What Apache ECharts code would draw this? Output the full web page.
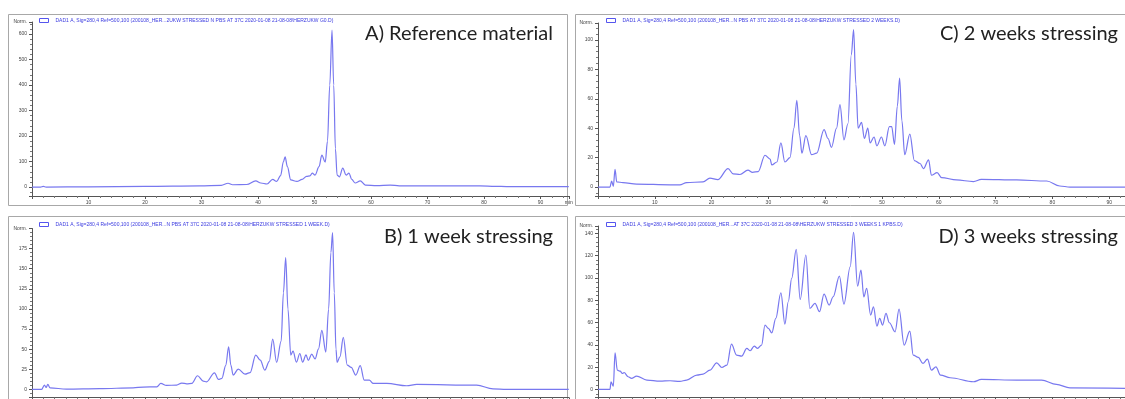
<!DOCTYPE html>
<html>
<head>
<meta charset="utf-8">
<title>Chromatograms</title>
<script src="https://cdn.jsdelivr.net/npm/echarts@6/dist/echarts.min.js"></script>
<style>
  html, body { margin: 0; padding: 0; background: #fff; }
  #chart { width: 1125px; height: 399px; }
</style>
</head>
<body>
<div id="chart"></div>
<script>
// retention time (min) and signal (Norm.)
const timeA = [0, 1.5, 2.0, 2.5, 10, 20, 29.7, 33.5, 34.7, 35.5, 38, 39.6, 40.5, 41.6, 42.6, 43.3, 44.0, 44.5, 44.8, 45.2,
  45.8, 46.9, 47.8, 48.6, 49.2, 49.6, 50.1, 50.8, 51.3, 51.9, 52.3, 52.7, 53.1, 53.4, 53.7, 54.0, 54.4, 55.0, 55.6, 56.1,
  56.6, 57.2, 58.1, 59.0, 61, 63.4, 65, 79.3, 82, 84, 95];
const valA = [0, 0, 3, 0, 1, 3, 5, 7, 15, 9, 10, 24, 16, 12, 30, 22, 45, 100, 118, 80,
  28, 22, 30, 42, 44, 55, 47, 80, 125, 98, 180, 400, 615, 400, 150, 47, 40, 74, 47, 55,
  30, 16, 24, 8, 6, 8, 5, 5, 3, 2, 2];

const timeB = [0, 1.7, 2.2, 2.5, 2.8, 3.2, 6.1, 12, 17.9, 19.7, 22.1, 22.8, 23.8, 25.6, 26.5, 27.4, 28.3, 29.3, 30.3, 30.9,
  32.3, 33.0, 33.6, 34.3, 34.8, 35.2, 35.6, 36.5, 37.7, 38.6, 39.6, 40.4, 41.2, 42.0, 42.6, 43.3, 44.1, 44.5, 44.9, 45.3,
  45.8, 46.2, 46.8, 47.4, 47.9, 48.5, 48.9, 49.5, 50.1, 50.7, 51.3, 52.0, 52.5, 52.9, 53.2, 53.5, 53.8, 54.0, 54.5, 55.1,
  55.8, 56.5, 57.3, 58.1, 58.8, 59.7, 60.4, 62.8, 66.3, 68.1, 78.7, 81.6, 84, 95];
const valB = [0, 0, 5.4, 2.5, 6.2, 2, 0.4, 1, 2, 3, 3.3, 7.5, 5, 5.4, 7.9, 7, 7.5, 17, 10.4, 9.5,
  20.7, 12.4, 13.7, 30, 53, 30, 17.8, 25.3, 19, 21, 42.7, 36.5, 24, 35, 62.6, 33.6, 60, 120, 163.7, 100,
  42.7, 47.7, 34, 44.7, 34, 43, 36, 44, 38, 50, 73.5, 46.5, 100, 170, 195, 120, 50, 33.6, 40.6, 64.7,
  30.3, 27.4, 17.8, 29.5, 11.6, 11.6, 7.5, 7.5, 4.6, 6.2, 5.4, 0.8, 0, 0];

const timeC = [0, 2.1, 2.4, 2.7, 3.0, 3.3, 4.4, 6.8, 12.7, 14.4, 15.6, 18.5, 19.7, 21.1, 22.9, 23.8, 25.0, 26.4, 27.2, 28.2,
  29.4, 30.3, 30.6, 31.5, 32.2, 32.9, 33.8, 34.5, 35.0, 35.5, 35.9, 36.6, 37.6, 38.5, 39.8, 40.5, 41.1, 42.0, 42.6, 43.3,
  44.0, 44.6, 45.0, 45.4, 45.8, 46.4, 46.9, 47.5, 47.9, 48.6, 49.1, 49.9, 50.5, 51.3, 51.7, 52.2, 52.7, 53.1, 53.5, 54.0,
  54.9, 55.7, 56.7, 57.3, 58.2, 58.7, 59.7, 60.5, 63.1, 66.1, 67.5, 73.7, 79.0, 81.3, 83.1, 95];
const valC = [0, 0, 4, 0.5, 12, 3.5, 3, 2, 1.5, 1.5, 3, 3.5, 6, 5, 12.5, 9, 8.5, 11.5, 10, 10.5,
  21.6, 19, 15, 17, 30, 17, 20, 40, 59, 35, 23, 35, 22, 23, 39, 33, 27, 40, 56, 32,
  43, 90, 107, 70, 40, 44, 33, 40, 30, 34, 28, 34, 28, 41, 41, 29, 55, 74, 45, 22,
  36, 18, 16, 12.5, 18.5, 8, 9.8, 6.4, 4.8, 3.7, 5.2, 4.8, 4.1, 0.7, 0, 0];

const timeD = [0, 2.1, 2.3, 2.7, 3.0, 3.4, 3.9, 4.3, 4.6, 5.3, 5.9, 6.8, 8.6, 10.9, 12.7, 14.4, 15.6, 17.4, 18.5, 19.7,
  20.9, 21.8, 22.7, 23.5, 24.4, 25.3, 26.2, 26.8, 27.5, 28.1, 28.8, 29.4, 30.0, 30.6, 31.3, 32.2, 32.9, 33.5, 34.1, 34.9,
  35.6, 36.6, 37.3, 38.2, 39.0, 39.8, 40.7, 41.4, 42.5, 43.3, 44.4, 45.0, 45.7, 46.3, 46.8, 47.3, 48.0, 48.5, 49.1, 49.6,
  50.1, 50.7, 51.3, 52.3, 53.0, 53.9, 54.9, 55.5, 56.4, 57.2, 58.0, 58.7, 59.5, 60.3, 62.0, 66.1, 67.5, 73.7, 78.1, 80.7,
  83.1, 95];
const valD = [0, 0, 6.9, 3, 32.9, 17.3, 16.4, 14.3, 15.2, 11.4, 9.9, 12, 8.4, 7.5, 7.8, 7.2, 8.4, 12.9, 13.8, 17.3,
  23.9, 19.7, 21.8, 40.7, 30.8, 29.9, 36.8, 34.7, 38.9, 36.8, 39.8, 57.7, 54.7, 50.8, 63.7, 86.7, 58.6, 78.6, 99.6, 125.6,
  80.7, 120.5, 72.6, 77.1, 69.7, 85.5, 75.6, 83.1, 101.6, 76.5, 110, 140.8, 92.7, 107, 83, 90.6, 66.7, 74, 56.8, 63.7,
  57.7, 68.2, 59.8, 51.7, 72, 39.8, 52.3, 30.8, 28.7, 23.3, 27.2, 17.3, 20.3, 12.9, 10.5, 6.9, 9.0, 8.4, 8.4, 4.5,
  1.5, 0.9];

const panelTitles = ['A) Reference material', 'B) 1 week stressing', 'C) 2 weeks stressing', 'D) 3 weeks stressing'];
const headers = [
  'DAD1 A, Sig=280,4 Ref=500,100 (200108_HER...2UKW STRESSED N PBS AT 37C 2020-01-08 21-08-08\\HERZUKW G0.D)',
  'DAD1 A, Sig=280,4 Ref=500,100 (200108_HER...N PBS AT 37C 2020-01-08 21-08-08\\HERZUKW STRESSED 1 WEEK.D)',
  'DAD1 A, Sig=280,4 Ref=500,100 (200108_HER...N PBS AT 37C 2020-01-08 21-08-08\\HERZUKW STRESSED 2 WEEKS.D)',
  'DAD1 A, Sig=280,4 Ref=500,100 (200108_HER...AT 37C 2020-01-08 21-08-08\\HERZUKW STRESSED 3 WEEKS 1 KPBS.D)'
];
// y axis ranges (axis sits a bit below zero like ChemStation), and tick step
const yMin = [-35, -10, -6.1, -7.2];
const yMax = [647, 200, 111.5, 146.5];
const yStep = [100, 25, 20, 20];

const times = [timeA, timeB, timeC, timeD];
const vals = [valA, valB, valC, valD];

const LINE = '#7878ef';

var chart = echarts.init(document.getElementById('chart'));

// grid boxes: A, B (left column), C, D (right column)
// C and D run past the right edge of the picture, like the cropped original
const grids = [
  { left: 32, top: 22, width: 536.75, height: 174 },
  { left: 32, top: 228.5, width: 536.75, height: 169 },
  { left: 598, top: 23, width: 539.6, height: 173 },
  { left: 598, top: 226, width: 539.6, height: 171.5 }
].map(g => Object.assign(g, { containLabel: false, outerBoundsMode: 'none' }));

var xAxes = [], yAxes = [], series = [], legends = [], titles = [];
for (let i = 0; i < 4; i++) {
  xAxes.push({
    gridIndex: i,
    type: 'value',
    min: 0,
    max: 95,
    minInterval: 10,
    maxInterval: 10,
    axisLine: { onZero: false, lineStyle: { color: '#555', width: 1 } },
    axisTick: { length: 3, lineStyle: { color: '#555' } },
    minorTick: { show: true, splitNumber: 5, length: 2, lineStyle: { color: '#777' } },
    splitLine: { show: false },
    axisLabel: {
      fontSize: 5,
      color: '#444',
      margin: 4,
      formatter: function (v) {
        if (v === 0) return '';
        if (v >= 95) return 'min';
        return String(v);
      }
    }
  });
  yAxes.push({
    gridIndex: i,
    type: 'value',
    min: yMin[i],
    max: yMax[i],
    minInterval: yStep[i],
    maxInterval: yStep[i],
    axisLine: { show: true, lineStyle: { color: '#555', width: 1 } },
    axisTick: { show: true, length: 3, lineStyle: { color: '#555' } },
    minorTick: { show: true, splitNumber: 5, length: 2, lineStyle: { color: '#777' } },
    splitLine: { show: false },
    axisLabel: {
      fontSize: 5,
      color: '#444',
      margin: 5,
      showMinLabel: false,
      formatter: function (v) {
        if (v < 0) return '';
        if (v >= yMax[i]) return 'Norm.';
        return String(v);
      }
    }
  });
  series.push({
    name: headers[i],
    type: 'line',
    xAxisIndex: i,
    yAxisIndex: i,
    data: times[i].map((t, k) => [t, vals[i][k]]),
    showSymbol: false,
    smooth: 0.35,
    smoothMonotone: 'x',
    lineStyle: { color: LINE, width: 1.2 },
    itemStyle: { color: LINE }
  });
  const leftCol = i < 2;
  const topRow = i === 0 || i === 2;
  legends.push({
    data: [headers[i]],
    left: leftCol ? 34 : 601,
    top: topRow ? 13 : 217,
    itemWidth: 9,
    itemHeight: 4,
    itemGap: 4,
    icon: 'rect',
    itemStyle: { color: '#fff', borderColor: '#5555ee', borderWidth: 1 },
    textStyle: { fontSize: 5, color: '#3a3ae0', padding: [0, 0, 0, 2] },
    selectedMode: false
  });
  titles.push({
    text: panelTitles[i],
    right: leftCol ? 567 : 2,
    top: topRow ? 19 : 222,
    textStyle: { fontFamily: 'Lato', fontSize: 20, fontWeight: 'normal', color: '#222' }
  });
}

var option = {
  animation: false,
  backgroundColor: '#fff',
  title: titles,
  legend: legends,
  grid: grids,
  xAxis: xAxes,
  yAxis: yAxes,
  series: series,
  graphic: [
    { type: 'rect', shape: { x: 8.5, y: 14.5, width: 559, height: 191 }, style: { fill: 'none', stroke: '#a8a8a8', lineWidth: 1 }, silent: true },
    { type: 'rect', shape: { x: 8.5, y: 216.5, width: 559, height: 192 }, style: { fill: 'none', stroke: '#a8a8a8', lineWidth: 1 }, silent: true },
    { type: 'rect', shape: { x: 575.5, y: 14.5, width: 570, height: 191 }, style: { fill: 'none', stroke: '#a8a8a8', lineWidth: 1 }, silent: true },
    { type: 'rect', shape: { x: 575.5, y: 216.5, width: 570, height: 192 }, style: { fill: 'none', stroke: '#a8a8a8', lineWidth: 1 }, silent: true }
  ]
};

chart.setOption(option);
</script>
</body>
</html>
